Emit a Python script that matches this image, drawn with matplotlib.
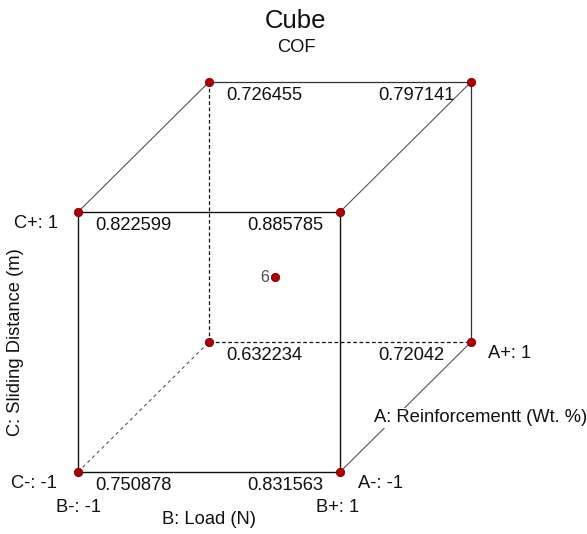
import matplotlib
matplotlib.use("Agg")
import matplotlib.pyplot as plt

plt.rcParams['font.family'] = ['Liberation Sans', 'DejaVu Sans']

# Coded factor levels of the 8 cube corners (A, B, C) and response COF
A_levels = [-1, -1, -1, -1, 1, 1, 1, 1]
B_levels = [-1, 1, -1, 1, -1, 1, -1, 1]
C_levels = [-1, -1, 1, 1, -1, -1, 1, 1]
cof_values = [0.750878, 0.831563, 0.822599, 0.885785,
              0.632234, 0.72042, 0.726455, 0.797141]
center_count = 6

title = "Cube"
subtitle = "COF"
a_name = "A: Reinforcementt (Wt. %)"
b_name = "B: Load (N)"
c_name = "C: Sliding Distance (m)"


def proj(a, b, c):
    return b + 0.5 * (a + 1), c + 0.5 * (a + 1)


fig = plt.figure(figsize=(5.87, 5.34), dpi=100)
ax = fig.add_axes([0, 0, 1, 1])
ax.set_xlim(-209 / 131, (587 - 209) / 131)
ax.set_ylim((342 - 534) / 130, 342 / 130)
ax.axis('off')

edges = [
    ((-1, -1, -1), (-1, 1, -1), 'front'),
    ((-1, -1, 1), (-1, 1, 1), 'front'),
    ((-1, -1, -1), (-1, -1, 1), 'front'),
    ((-1, 1, -1), (-1, 1, 1), 'front'),
    ((1, -1, 1), (1, 1, 1), 'back'),
    ((1, 1, -1), (1, 1, 1), 'back'),
    ((-1, -1, 1), (1, -1, 1), 'diag'),
    ((-1, 1, 1), (1, 1, 1), 'diag'),
    ((-1, 1, -1), (1, 1, -1), 'diag'),
    ((1, -1, -1), (1, 1, -1), 'hidden'),
    ((1, -1, -1), (1, -1, 1), 'hidden'),
    ((-1, -1, -1), (1, -1, -1), 'hiddendiag'),
]
styles = {
    'front': dict(color='#111111', lw=1.0, ls='-'),
    'back': dict(color='#333333', lw=0.9, ls='-'),
    'diag': dict(color='#555555', lw=0.8, ls='-'),
    'hidden': dict(color='#111111', lw=0.9, ls=(0, (3, 2))),
    'hiddendiag': dict(color='#555555', lw=0.8, ls=(0, (3, 3))),
}
for p1, p2, st in edges:
    x1, y1 = proj(*p1)
    x2, y2 = proj(*p2)
    ax.plot([x1, x2], [y1, y2], zorder=1, **styles[st])

# corner points and values
for a, b, c, v in zip(A_levels, B_levels, C_levels, cof_values):
    x, y = proj(a, b, c)
    ax.plot(x, y, 'o', ms=6, mfc='#b00000', mec='#800000', mew=0.6, zorder=3)
    dx = 17 if b < 0 else -93
    ax.annotate(f"{v:g}", (x, y), xytext=(dx * 0.72, -13 * 0.72),
                textcoords='offset points', ha='left', va='center',
                fontsize=13.2, color='#111111')

# center point
cx, cy = proj(0, 0, 0)
ax.plot(cx, cy, 'o', ms=6, mfc='#b00000', mec='#800000', mew=0.6, zorder=3)
ax.annotate(str(center_count), (cx, cy), xytext=(-5 * 0.72, 1.5 * 0.72),
            textcoords='offset points', ha='right', va='center_baseline',
            fontsize=11.5, color='#4a4a58')

def lab(p, text, dx, dy, ha, **kw):
    x, y = proj(*p)
    ax.annotate(text, (x, y), xytext=(dx * 0.72, -dy * 0.72),
                textcoords='offset points', ha=ha, va='center',
                fontsize=13.2, color='#111111', **kw)

lab((-1, -1, 1), "C+: 1", -20, 11, 'right')
lab((-1, -1, -1), "C-: -1", -21, 11, 'right')
lab((-1, -1, -1), "B-: -1", 0, 36, 'center')
lab((-1, 1, -1), "B+: 1", -2, 36, 'center')
lab((-1, 1, -1), "A-: -1", 18, 11, 'left')
lab((1, 1, -1), "A+: 1", 17, 11, 'left')
lab((-1, 0, -1), b_name, 0, 48, 'center')
lab((0, 1, -1), a_name, -32, 11, 'left',
    bbox=dict(boxstyle='square,pad=0.1', fc='white', ec='none'))
x0, y0 = proj(-1, -1, 0)
ax.annotate(c_name, (x0, y0), xytext=(-62 * 0.72, 0),
            textcoords='offset points', ha='center', va='center',
            rotation=90, fontsize=13.2, color='#111111')

fig.text(296 / 587, 1 - 21 / 534, title, ha='center', va='center',
         fontsize=18.5, color='#111111')
fig.text(296 / 587, 1 - 47 / 534, subtitle, ha='center', va='center',
         fontsize=13.2, color='#111111')

fig.savefig("out.png", dpi=100)
